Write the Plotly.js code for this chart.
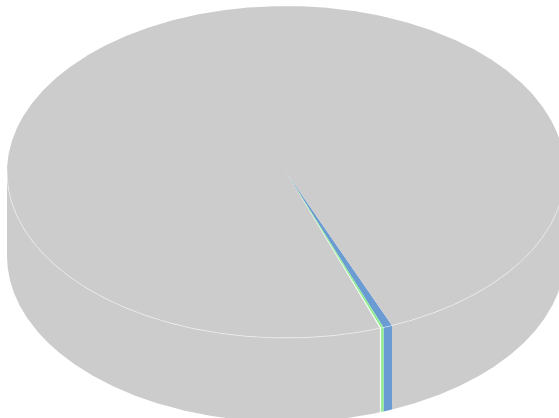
<!DOCTYPE html>
<html>
<head>
<meta charset="utf-8">
<script src="https://cdn.plot.ly/plotly-3.0.1.min.js"></script>
<style>html,body{margin:0;padding:0;background:#fff;}#chart{width:559px;height:418px;}</style>
</head>
<body>
<div id="chart"></div>
<script>
// Data (share of total, %)
const labels = ["Series A", "Series B", "Series C", "Other"];
const values = [0.52, 0.15, 0.07, 99.26];
const colors = ["#6a9bd2", "#92ec92", "#f2fff2", "#cccccc"];

// Geometry / style (pixel space)
const CX = 286, CY = 172, RX = 279, RY = 166, DEPTH = 84;
const START = 157.67; // degrees, clockwise from 12 o'clock

function pt(deg, cy) {
  const t = deg * Math.PI / 180;
  return [CX + RX * Math.sin(t), cy - RY * Math.cos(t)];
}
function arc(a, b, cy) {
  const n = Math.max(2, Math.ceil(Math.abs(b - a) / 0.25));
  const xs = [], ys = [];
  for (let i = 0; i <= n; i++) {
    const p = pt(a + (b - a) * i / n, cy);
    xs.push(p[0]); ys.push(p[1]);
  }
  return [xs, ys];
}

const total = values.reduce((s, v) => s + v, 0);
const slices = [];
let acc = START;
values.forEach((v, i) => {
  const span = v / total * 360;
  slices.push({a: acc, b: acc + span, color: colors[i], label: labels[i]});
  acc += span;
});

const sideTraces = [], topTraces = [];
const visibleWindows = [[90, 270], [450, 630]];
slices.forEach(s => {
  visibleWindows.forEach(w => {
    const a = Math.max(s.a, w[0]), b = Math.min(s.b, w[1]);
    if (b > a) {
      const top = arc(a, b, CY), bot = arc(b, a, CY + DEPTH);
      sideTraces.push({
        type: "scatter", mode: "lines", fill: "toself",
        x: top[0].concat(bot[0]), y: top[1].concat(bot[1]),
        fillcolor: s.color, line: {width: 0, color: s.color},
        hoverinfo: "skip", name: s.label
      });
    }
  });
  const t = arc(s.a, s.b, CY);
  topTraces.push({
    type: "scatter", mode: "lines", fill: "toself",
    x: [CX].concat(t[0], [CX]), y: [CY].concat(t[1], [CY]),
    fillcolor: s.color, line: {width: 0, color: s.color},
    hoverinfo: "skip", name: s.label
  });
});

const seam = arc(90, 270, CY);
const seamTrace = {
  type: "scatter", mode: "lines", x: seam[0], y: seam[1],
  line: {width: 1, color: "rgba(255,255,255,0.45)"}, hoverinfo: "skip"
};

const layout = {
  width: 559, height: 418,
  margin: {l: 0, r: 0, t: 0, b: 0},
  paper_bgcolor: "#ffffff", plot_bgcolor: "#ffffff",
  showlegend: false,
  xaxis: {range: [0, 559], visible: false, fixedrange: true},
  yaxis: {range: [418, 0], visible: false, fixedrange: true}
};

Plotly.newPlot("chart", sideTraces.concat(topTraces, [seamTrace]), layout, {staticPlot: true});
</script>
</body>
</html>
